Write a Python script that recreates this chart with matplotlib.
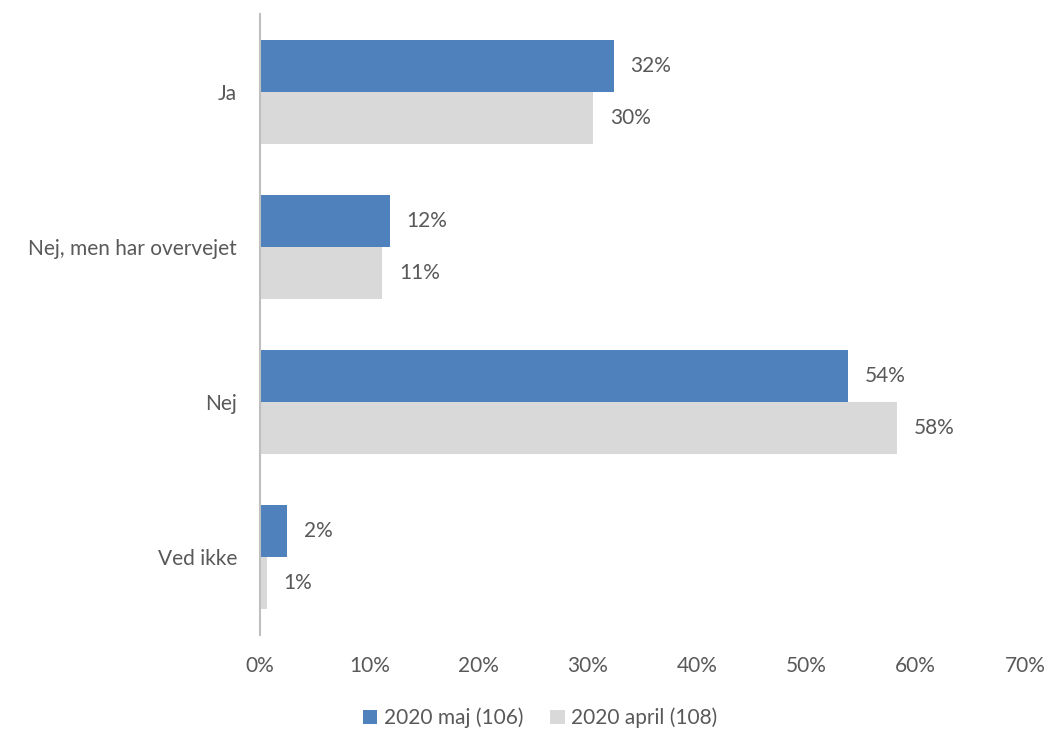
import numpy as np
import matplotlib
matplotlib.use('Agg')
import matplotlib.pyplot as plt

plt.rcParams['font.family'] = ['Lato', 'DejaVu Sans']

categories = ['Ja', 'Nej, men har overvejet', 'Nej', 'Ved ikke']
maj_values = [0.324, 0.119, 0.538, 0.025]
april_values = [0.305, 0.112, 0.583, 0.0065]
series_names = ['2020 maj (106)', '2020 april (108)']
tick_labels = ['0%', '10%', '20%', '30%', '40%', '50%', '60%', '70%']

blue = '#4F81BD'
grey = '#D9D9D9'
txt = '#595959'
fs = 15

fig = plt.figure(figsize=(10.54, 7.31), dpi=100)
ax = fig.add_axes([260/1054, 1 - 635/731, (1025-260)/1054, (635-14)/731])

y = np.arange(len(categories))
h = 0.335
ax.barh(y - h/2, maj_values, height=h, color=blue, label=series_names[0])
ax.barh(y + h/2, april_values, height=h, color=grey, label=series_names[1])

for yi, v in zip(y, maj_values):
    ax.text(v + 0.015, yi - h/2, '%d%%' % round(v*100), va='center', ha='left', fontsize=fs, color=txt)
for yi, v in zip(y, april_values):
    ax.text(v + 0.015, yi + h/2, '%d%%' % round(v*100), va='center', ha='left', fontsize=fs, color=txt)

ax.set_xlim(0, 0.7)
ax.set_ylim(3.5, -0.5)
ax.set_xticks(np.arange(0, 0.71, 0.1))
ax.set_xticklabels(tick_labels, fontsize=fs, color=txt)
ax.set_yticks(y)
ax.set_yticklabels(categories, fontsize=fs, color=txt)
ax.tick_params(axis='both', length=0)
ax.tick_params(axis='x', pad=15)
ax.tick_params(axis='y', pad=16.5)

for s in ['top', 'right', 'bottom']:
    ax.spines[s].set_visible(False)
ax.spines['left'].set_color('#BFBFBF')
ax.spines['left'].set_linewidth(1.5)

fig.legend(loc='center', bbox_to_anchor=(540/1054, 1 - 718/731), ncol=2, frameon=False,
           fontsize=fs, labelcolor=txt, handlelength=0.7, handleheight=0.7,
           handletextpad=0.3, columnspacing=1.3)

plt.savefig('out.png')
